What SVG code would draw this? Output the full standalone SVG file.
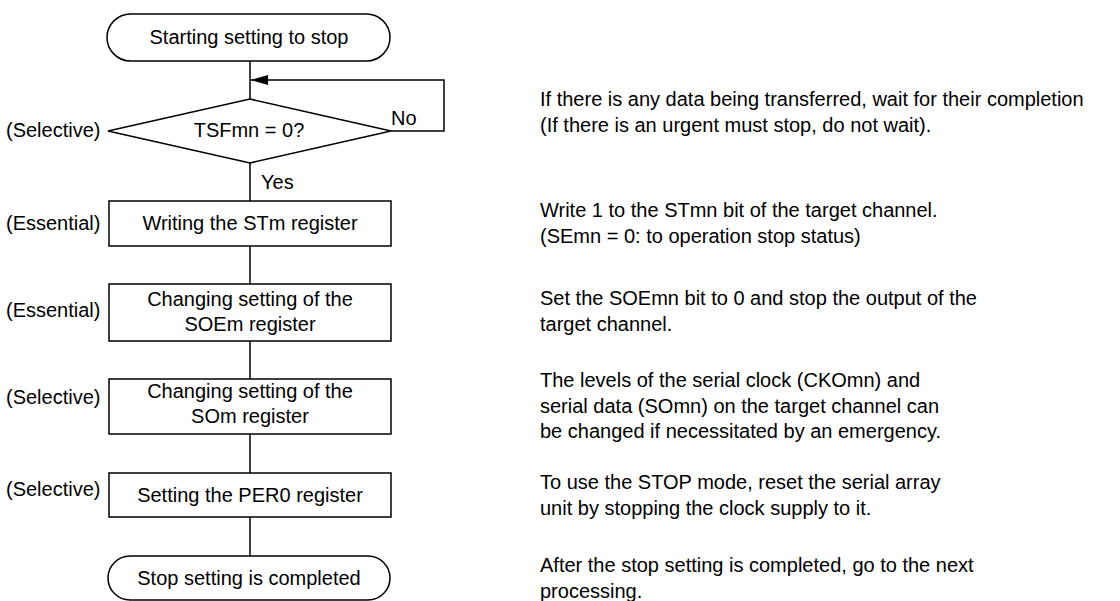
<svg xmlns="http://www.w3.org/2000/svg" width="1120" height="601" viewBox="0 0 1120 601">
<defs>
<style>
text{font-family:"Liberation Sans",Arial,sans-serif;font-size:20px;fill:#000}
.c{text-anchor:middle}
.n{fill:#fff;stroke:#000;stroke-width:1.5}
.ln{fill:none;stroke:#000;stroke-width:1.5}
</style>
<marker id="ah" markerWidth="18" markerHeight="12" refX="17" refY="6" orient="auto" markerUnits="userSpaceOnUse">
<path d="M0,1 L17,6 L0,11 Z" fill="#000"/>
</marker>
</defs>
<rect width="1120" height="601" fill="#fff"/>
<g id="connectors">
<line class="ln" x1="250" y1="61" x2="250" y2="99"/>
<polyline class="ln" points="391,131 444,131 444,80 251,80" marker-end="url(#ah)"/>
<line class="ln" x1="250" y1="163" x2="250" y2="201"/>
<line class="ln" x1="250" y1="246" x2="250" y2="284"/>
<line class="ln" x1="250" y1="341" x2="250" y2="379"/>
<line class="ln" x1="250" y1="434" x2="250" y2="473"/>
<line class="ln" x1="250" y1="517" x2="250" y2="556"/>
<text x="391" y="125">No</text>
<text x="261" y="189">Yes</text>
</g>
<g id="start">
<rect class="n" x="107" y="14" width="283" height="47" rx="23.5"/>
<text class="c" x="249" y="44">Starting setting to stop</text>
</g>
<g id="decision">
<polygon class="n" points="250,99 391,131 250,163 108,131"/>
<text class="c" x="249" y="137">TSFmn = 0?</text>
<text x="6" y="137">(Selective)</text>
</g>
<g id="step1">
<rect class="n" x="109" y="201" width="282" height="45"/>
<text class="c" x="250" y="230">Writing the STm register</text>
<text x="6" y="230">(Essential)</text>
</g>
<g id="step2">
<rect class="n" x="109" y="284" width="282" height="57"/>
<text class="c" x="250" y="306">Changing setting of the</text>
<text class="c" x="250" y="331">SOEm register</text>
<text x="6" y="317">(Essential)</text>
</g>
<g id="step3">
<rect class="n" x="109" y="379" width="282" height="55"/>
<text class="c" x="250" y="398">Changing setting of the</text>
<text class="c" x="250" y="423">SOm register</text>
<text x="6" y="404">(Selective)</text>
</g>
<g id="step4">
<rect class="n" x="109" y="473" width="282" height="44"/>
<text class="c" x="250" y="502">Setting the PER0 register</text>
<text x="6" y="496">(Selective)</text>
</g>
<g id="end">
<rect class="n" x="108" y="556" width="282" height="44" rx="22"/>
<text class="c" x="249" y="585">Stop setting is completed</text>
</g>
<g id="notes">
<text x="540" y="106">If there is any data being transferred, wait for their completion</text>
<text x="540" y="131.5">(If there is an urgent must stop, do not wait).</text>
<text x="540" y="216.5">Write 1 to the STmn bit of the target channel.</text>
<text x="540" y="242.5">(SEmn = 0: to operation stop status)</text>
<text x="540" y="305">Set the SOEmn bit to 0 and stop the output of the</text>
<text x="540" y="331">target channel.</text>
<text x="540" y="387">The levels of the serial clock (CKOmn) and</text>
<text x="540" y="412.5">serial data (SOmn) on the target channel can</text>
<text x="540" y="438">be changed if necessitated by an emergency.</text>
<text x="540" y="489">To use the STOP mode, reset the serial array</text>
<text x="540" y="514.5">unit by stopping the clock supply to it.</text>
<text x="540" y="572">After the stop setting is completed, go to the next</text>
<text x="540" y="597.5">processing.</text>
</g>
</svg>
